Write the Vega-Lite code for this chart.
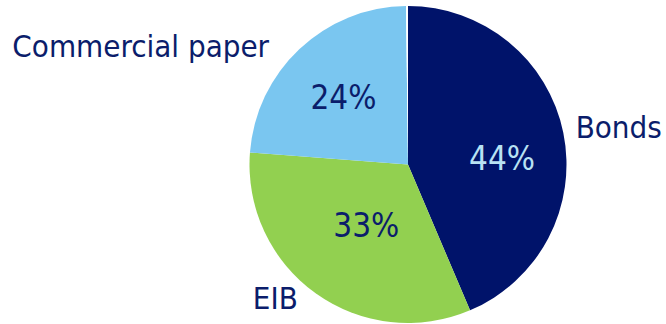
{
  "$schema": "https://vega.github.io/schema/vega-lite/v6.json",
  "width": 516,
  "height": 317,
  "autosize": "none",
  "padding": {"left": 150, "top": 6, "right": 0, "bottom": 1},
  "background": "white",
  "view": {"stroke": null},
  "data": {
    "values": [
      {"category": "Bonds", "rank": 1, "value": 43.6, "pct": "44%"},
      {"category": "EIB", "rank": 2, "value": 32.6, "pct": "33%"},
      {"category": "Commercial paper", "rank": 3, "value": 23.6, "pct": "24%"},
      {"category": "Other", "rank": 4, "value": 0.2, "pct": ""}
    ]
  },
  "encoding": {
    "theta": {"field": "value", "type": "quantitative", "stack": true},
    "order": {"field": "rank", "type": "quantitative"}
  },
  "layer": [
    {
      "mark": {"type": "arc", "outerRadius": 158.5},
      "encoding": {
        "color": {
          "field": "category",
          "type": "nominal",
          "scale": {
            "domain": ["Bonds", "EIB", "Commercial paper", "Other"],
            "range": ["#00136A", "#92D050", "#7AC6F0", "#FFFFFF"]
          },
          "legend": null
        }
      }
    },
    {
      "mark": {"type": "text", "radius": 95, "dx": 1, "dy": 14, "fontSize": 33, "font": "DejaVu Sans Condensed", "align": "center", "baseline": "middle", "color": "#B8E2F4"},
      "encoding": {"text": {"condition": {"test": "datum.category === 'Bonds'", "field": "pct"}, "value": ""}}
    },
    {
      "mark": {"type": "text", "radius": 75, "dx": 2, "dy": 2, "fontSize": 33, "font": "DejaVu Sans Condensed", "align": "center", "baseline": "middle", "color": "#0B1D6B"},
      "encoding": {"text": {"condition": {"test": "datum.category === 'EIB'", "field": "pct"}, "value": ""}}
    },
    {
      "mark": {"type": "text", "radius": 90, "dx": -3, "dy": 0, "fontSize": 33, "font": "DejaVu Sans Condensed", "align": "center", "baseline": "middle", "color": "#0B1D6B"},
      "encoding": {"text": {"condition": {"test": "datum.category === 'Commercial paper'", "field": "pct"}, "value": ""}}
    },
    {
      "mark": {"type": "text", "radius": 213, "dx": 2, "dy": 7, "fontSize": 31, "font": "DejaVu Sans Condensed", "align": "center", "baseline": "middle", "color": "#0B1D6B"},
      "encoding": {"text": {"condition": {"test": "datum.category === 'Bonds'", "field": "category"}, "value": ""}}
    },
    {
      "mark": {"type": "text", "radius": 190, "dx": -22, "dy": -19, "fontSize": 31, "font": "DejaVu Sans Condensed", "align": "center", "baseline": "middle", "color": "#0B1D6B"},
      "encoding": {"text": {"condition": {"test": "datum.category === 'EIB'", "field": "category"}, "value": ""}}
    },
    {
      "mark": {"type": "text", "radius": 240, "dx": -103, "dy": 58, "fontSize": 31, "font": "DejaVu Sans Condensed", "align": "center", "baseline": "middle", "color": "#0B1D6B"},
      "encoding": {"text": {"condition": {"test": "datum.category === 'Commercial paper'", "field": "category"}, "value": ""}}
    }
  ]
}
